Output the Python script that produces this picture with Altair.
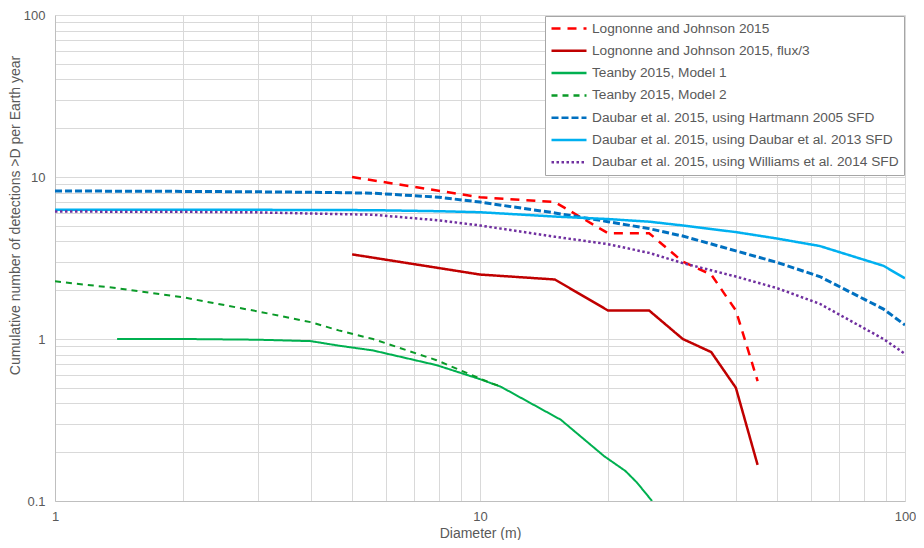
import altair as alt
import pandas as pd

names = [
    "Lognonne and Johnson 2015",
    "Lognonne and Johnson 2015, flux/3",
    "Teanby 2015, Model 1",
    "Teanby 2015, Model 2",
    "Daubar et al. 2015, using Hartmann 2005 SFD",
    "Daubar et al. 2015, using Daubar et al. 2013 SFD",
    "Daubar et al. 2015, using Williams et al. 2014 SFD",
]
colors = ["#FF0000", "#C00000", "#00B050", "#0A9A28", "#0070C0", "#00B0F0", "#7030A0"]
dashes = [[9, 7], [1, 0], [1, 0], [6, 5], [7, 3], [1, 0], [2.5, 2.5]]
widths = [2.5, 2.5, 2, 2, 3, 2.5, 2.5]

lj_d = [5, 10, 15, 20, 25, 30, 35, 40, 45]
lj_n = [10, 7.5, 7, 4.5, 4.5, 3, 2.5, 1.5, 0.55]
lj3_n = [3.33, 2.5, 2.33, 1.5, 1.5, 1.0, 0.83, 0.5, 0.167]

t1_d = [1.4, 2, 3, 4, 4.65, 5.6, 7.9, 10, 11.2, 15.5, 19.6, 22, 23.4, 25.4]
t1_n = [1.0, 1.0, 0.99, 0.97, 0.91, 0.85, 0.69, 0.565, 0.507, 0.317, 0.189, 0.153, 0.13, 0.1]

t2_d = [1, 1.4, 2, 3, 4, 4.65, 5.6, 7.9, 10, 10.7, 11.2]
t2_n = [2.27, 2.06, 1.81, 1.48, 1.27, 1.13, 1.0, 0.74, 0.57, 0.53, 0.51]

db_d = [1, 2, 3, 4, 5.6, 8, 10, 15, 20, 25, 30, 40, 50, 63, 89, 100]
hart_n = [8.2, 8.15, 8.1, 8.05, 7.95, 7.5, 7.0, 6.0, 5.3, 4.8, 4.32, 3.5, 2.97, 2.43, 1.53, 1.22]
d13_n = [6.28, 6.28, 6.27, 6.26, 6.24, 6.15, 6.06, 5.7, 5.5, 5.3, 5.02, 4.57, 4.17, 3.75, 2.83, 2.37]
will_n = [6.12, 6.1, 6.05, 5.95, 5.85, 5.4, 5.02, 4.28, 3.85, 3.4, 2.94, 2.43, 2.06, 1.65, 1.0, 0.81]

x_vals = [1, 2, 3, 4, 5, 6, 7, 8, 9, 10, 20, 30, 40, 50, 60, 70, 80, 90, 100]
y_vals = [0.1, 0.2, 0.3, 0.4, 0.5, 0.6, 0.7, 0.8, 0.9, 1, 2, 3, 4, 5, 6, 7, 8, 9,
          10, 20, 30, 40, 50, 60, 70, 80, 90, 100]

series = [
    (lj_d, lj_n), (lj_d, lj3_n), (t1_d, t1_n), (t2_d, t2_n),
    (db_d, hart_n), (db_d, d13_n), (db_d, will_n),
]
rows = []
for i, (ds, ns) in enumerate(series):
    for d, n in zip(ds, ns):
        rows.append({"series": names[i], "D": d, "N": n, "w": widths[i]})
df = pd.DataFrame(rows)

font = "Liberation Sans"
grey = "#595959"

legend = alt.Legend(title=None, orient="top-right", offset=1)

chart = alt.Chart(df).mark_line(clip=True).encode(
    x=alt.X("D:Q", scale=alt.Scale(type="log", domain=[1, 100]),
            axis=alt.Axis(title="Diameter (m)", values=x_vals, tickSize=0,
                          labelExpr="indexof([1,10,100], datum.value) >= 0 ? format(datum.value, '~g') : ''",
                          labelPadding=9, titlePadding=3, labelFlush=False)),
    y=alt.Y("N:Q", scale=alt.Scale(type="log", domain=[0.1, 100]),
            axis=alt.Axis(title="Cumulative number of detections >D per Earth year",
                          values=y_vals, tickSize=0,
                          labelExpr="indexof([0.1,1,10,100], datum.value) >= 0 ? format(datum.value, '~g') : ''",
                          labelPadding=10, titleX=-40, titleY=200, titleAngle=270,
                          titleBaseline="middle", titleAlign="center", labelFlush=False)),
    color=alt.Color("series:N", scale=alt.Scale(domain=names, range=colors), legend=legend),
    strokeDash=alt.StrokeDash("series:N", scale=alt.Scale(domain=names, range=dashes), legend=legend),
    strokeWidth=alt.StrokeWidth("w:Q", scale=None, legend=None),
).properties(
    width=850, height=486,
    autosize=alt.AutoSizeParams(type="none"),
    padding={"left": 47, "top": 7, "right": 11, "bottom": 39},
).configure_view(
    stroke=None
).configure_axis(
    grid=True, gridColor="#D9D9D9", gridWidth=1,
    domainColor="#BFBFBF", domainWidth=1,
    labelColor=grey, labelFont=font, labelFontSize=13,
    titleColor=grey, titleFont=font, titleFontSize=14, titleFontWeight="normal",
).configure_legend(
    labelColor=grey, labelFont=font, labelFontSize=13.7, labelLimit=0,
    symbolType="M-1,0L1,0", symbolSize=1225, symbolStrokeWidth=2.5,
    strokeColor="#A6A6A6", fillColor="white", padding=5, rowPadding=7.3,
    clipHeight=15, labelOffset=4,
)

chart.save("out.html", embed_options={"renderer": "svg", "actions": False})
